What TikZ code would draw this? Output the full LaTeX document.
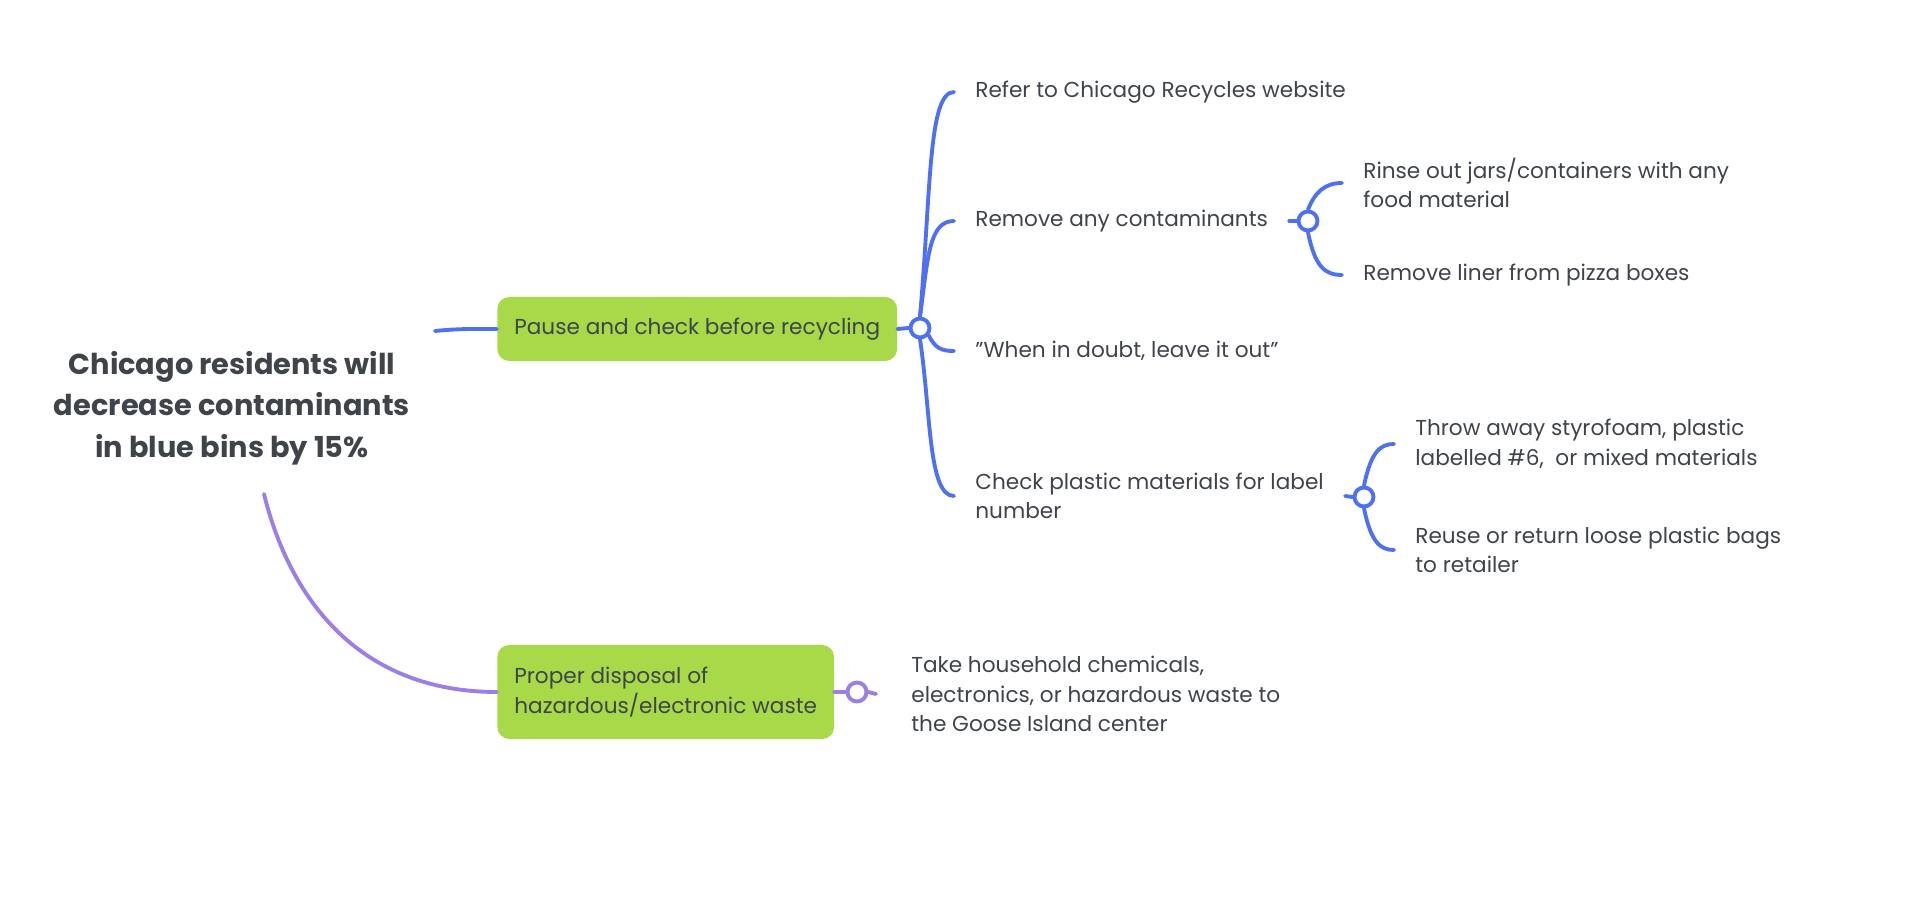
\documentclass[tikz,border=0pt]{standalone}
\usepackage{fontspec}
\setmainfont{Poppins}
\definecolor{mapblue}{RGB}{78,113,244}
\definecolor{mappurple}{RGB}{157,125,232}
\definecolor{mapgreen}{RGB}{168,217,72}
\definecolor{inkgrey}{RGB}{63,68,75}

\begin{document}
\begin{tikzpicture}[font=\fontsize{12.3}{16.8}\selectfont, text=inkgrey,
  topic/.style={fill=mapgreen, rounded corners=0.24cm, anchor=west,
    inner xsep=0.34cm, minimum height=1.28cm, align=left},
  leaf/.style={anchor=west, inner xsep=0.42cm, inner ysep=0pt, align=left},
  hub/.style={circle, fill=white, line width=2.2pt,
    minimum size=0.38cm, inner sep=0pt},
  link/.style={line width=2.2pt, line cap=round}]

  \useasboundingbox (0,0) rectangle (38.36,18.04);

  % central goal
  \node[font=\fontsize{16.4}{23.5}\selectfont\bfseries, align=center] (goal) at (4.64,9.88)
    {Chicago residents will\\ decrease contaminants\\ in blue bins by 15\%};
  \coordinate (g1) at (8.70,11.42);
  \coordinate (g2) at (5.28,8.16);

  % main topics
  \node[topic] (pause) at (9.94,11.46) {Pause and check before recycling};
  \node[topic, minimum height=1.88cm] (proper) at (9.94,4.20)
    {Proper disposal of\\ hazardous/electronic waste};

  % hubs
  \node[hub, draw=mapblue] (j1) at (18.40,11.48) {};
  \node[hub, draw=mapblue] (j2) at (26.16,13.62) {};
  \node[hub, draw=mapblue] (j3) at (27.28,8.10) {};
  \node[hub, draw=mappurple] (j4) at (17.14,4.20) {};

  % leaves
  \node[leaf] (refer) at (19.08,16.20) {Refer to Chicago Recycles website};
  \node[leaf] (remove) at (19.08,13.62) {Remove any contaminants};
  \node[leaf] (doubt) at (19.08,11.02) {"When in doubt, leave it out"};
  \node[leaf] (check) at (19.08,8.12) {Check plastic materials for label\\ number};
  \node[leaf] (rinse) at (26.84,14.38) {Rinse out jars/containers with any\\ food material};
  \node[leaf] (liner) at (26.84,12.54) {Remove liner from pizza boxes};
  \node[leaf] (throw) at (27.88,9.16) {Throw away styrofoam, plastic\\ labelled \#6,\ \ or mixed materials};
  \node[leaf] (reuse) at (27.88,7.04) {Reuse or return loose plastic bags\\ to retailer};
  \node[leaf, inner xsep=0.7cm] (take) at (17.52,4.16)
    {Take household chemicals,\\ electronics, or hazardous waste to\\ the Goose Island center};

  % blue branch
  \draw[link, mapblue] (g1) .. controls (9.2,11.47) and (9.5,11.46) .. (pause.west);
  \draw[link, mapblue] (pause.east) -- (j1.west);
  \draw[link, mapblue] (j1.north) .. controls (18.62,14.2) and (18.56,16.20) .. (refer.west);
  \draw[link, mapblue] (j1.north) .. controls (18.56,12.9) and (18.58,13.62) .. (remove.west);
  \draw[link, mapblue] (j1.-40) .. controls (18.70,11.08) and (18.82,11.02) .. (doubt.west);
  \draw[link, mapblue] (j1.south) .. controls (18.62,9.8) and (18.56,8.12) .. (check.west);
  \draw[link, mapblue] (remove.east) -- (j2.west);
  \draw[link, mapblue] (j2.north) .. controls (26.30,14.20) and (26.50,14.38) .. (rinse.west);
  \draw[link, mapblue] (j2.south) .. controls (26.30,12.70) and (26.50,12.54) .. (liner.west);
  \draw[link, mapblue] (check.east) -- (j3.west);
  \draw[link, mapblue] (j3.north) .. controls (27.42,9.00) and (27.60,9.16) .. (throw.west);
  \draw[link, mapblue] (j3.south) .. controls (27.42,7.20) and (27.60,7.04) .. (reuse.west);

  % purple branch
  \draw[link, mappurple] (g2) .. controls (5.80,6.04) and (7.20,4.20) .. (proper.west);
  \draw[link, mappurple] (proper.east) -- (j4.west);
  \draw[link, mappurple] (j4.east) -- (take.west);
\end{tikzpicture}
\end{document}
